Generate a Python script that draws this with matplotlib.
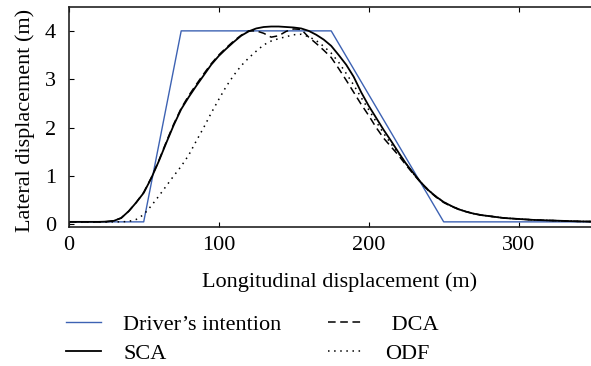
import matplotlib
matplotlib.use("Agg")
import matplotlib.pyplot as plt
from matplotlib.lines import Line2D

plt.rcParams['font.family'] = ['Liberation Serif', 'DejaVu Serif']

# Driver's intention (piecewise linear)
intent_x = [0, 50, 75, 175, 250, 350]
intent_y = [0.05, 0.05, 4.0, 4.0, 0.05, 0.05]

x = [0, 5, 10, 15, 20, 25, 30, 35, 40, 45, 50, 55, 60, 65, 70, 75, 80, 85, 90, 95,
     100, 105, 110, 115, 120, 125, 130, 135, 140, 145, 150, 155, 160, 165, 170, 175,
     180, 185, 190, 195, 200, 205, 210, 215, 220, 225, 230, 235, 240, 245, 250, 255,
     260, 265, 270, 275, 280, 285, 290, 295, 300, 310, 320, 330, 340, 350]

sca = [0.05, 0.05, 0.05, 0.05, 0.05, 0.055, 0.07, 0.13, 0.27, 0.45, 0.65, 0.95, 1.30, 1.68, 2.05, 2.38, 2.63, 2.86, 3.08, 3.30,
       3.48, 3.63, 3.77, 3.90, 3.99, 4.05, 4.08, 4.09, 4.09, 4.08, 4.07, 4.05, 4.00, 3.92, 3.82, 3.69,
       3.50, 3.30, 3.05, 2.73, 2.45, 2.20, 1.95, 1.72, 1.48, 1.25, 1.05, 0.86, 0.70, 0.57, 0.46, 0.38,
       0.31, 0.26, 0.22, 0.19, 0.17, 0.15, 0.13, 0.12, 0.11, 0.09, 0.08, 0.07, 0.06, 0.055]

dca = [0.05, 0.05, 0.05, 0.05, 0.05, 0.055, 0.07, 0.13, 0.27, 0.45, 0.66, 0.96, 1.31, 1.70, 2.07, 2.40, 2.66, 2.89, 3.11, 3.32,
       3.50, 3.65, 3.79, 3.91, 4.00, 4.00, 3.95, 3.87, 3.90, 3.99, 4.04, 4.03, 3.87, 3.74, 3.60, 3.45,
       3.22, 2.98, 2.73, 2.48, 2.25, 2.00, 1.78, 1.60, 1.42, 1.22, 1.03, 0.85, 0.69, 0.56, 0.45, 0.37,
       0.31, 0.26, 0.22, 0.19, 0.17, 0.15, 0.13, 0.12, 0.11, 0.09, 0.08, 0.07, 0.06, 0.055]

odf = [0.05, 0.05, 0.05, 0.05, 0.05, 0.05, 0.05, 0.05, 0.06, 0.10, 0.20, 0.38, 0.58, 0.79, 1.00, 1.20, 1.43, 1.72, 2.00, 2.30,
       2.58, 2.85, 3.08, 3.28, 3.44, 3.58, 3.71, 3.79, 3.84, 3.88, 3.92, 3.93, 3.88, 3.80, 3.68, 3.54,
       3.35, 3.12, 2.88, 2.62, 2.37, 2.12, 1.88, 1.66, 1.46, 1.25, 1.04, 0.86, 0.70, 0.57, 0.46, 0.38,
       0.31, 0.26, 0.22, 0.19, 0.17, 0.15, 0.13, 0.12, 0.11, 0.09, 0.08, 0.07, 0.06, 0.055]

x_ticks = [0, 100, 200, 300]
y_ticks = [0, 1, 2, 3, 4]

W, H = 591, 366
fig = plt.figure(figsize=(W / 100, H / 100), dpi=100)
ax = fig.add_axes([68.7 / W, 1 - 226.7 / H, 525 / W, 220 / H])

blue = '#3d62b3'
ax.plot(intent_x, intent_y, color=blue, lw=1.0)
ax.plot(x, sca, color='black', lw=1.3)
ax.plot(x, dca, color='black', lw=1.1, ls=(0, (5, 3)))
ax.plot(x, odf, color='black', lw=1.1, ls=(0, (1, 3)))

ax.set_xlim(0, 350)
ax.set_ylim(-0.05, 4.5)
ax.set_xticks(x_ticks)
ax.set_yticks(y_ticks)
ax.tick_params(direction='in', top=True, right=False, labelsize=16, length=3.6, width=0.8)
ax.tick_params(axis='x', pad=7)
ax.tick_params(axis='y', pad=9)
for s in ax.spines.values():
    s.set_linewidth(1.2)
    s.set_color('#222222')
ax.set_xlabel('Longitudinal displacement (m)', fontsize=16)
ax.set_ylabel('Lateral displacement (m)', fontsize=16)
ax.xaxis.set_label_coords((340 - 68.7) / 525, (226.7 - 272) / 220)
ax.yaxis.set_label_coords((35 - 68.7) / 525, (226.7 - 120) / 220)

handles = [Line2D([], [], color=blue, lw=1.0),
           Line2D([], [], color='black', lw=1.3),
           Line2D([], [], color='black', lw=1.1, ls=(0, (5, 3))),
           Line2D([], [], color='black', lw=1.1, ls=(0, (1, 3)))]
labels = ["Driver\u2019s intention", "SCA", " DCA", "ODF"]
fig.legend(handles, labels, ncol=2, loc='upper left', bbox_to_anchor=(66 / W, 1 - 314 / H),
           frameon=False, fontsize=16, handlelength=1.58, columnspacing=2.1,
           handletextpad=1.0, labelspacing=0.38, borderpad=0, borderaxespad=0)

fig.savefig('out.png', dpi=100)
